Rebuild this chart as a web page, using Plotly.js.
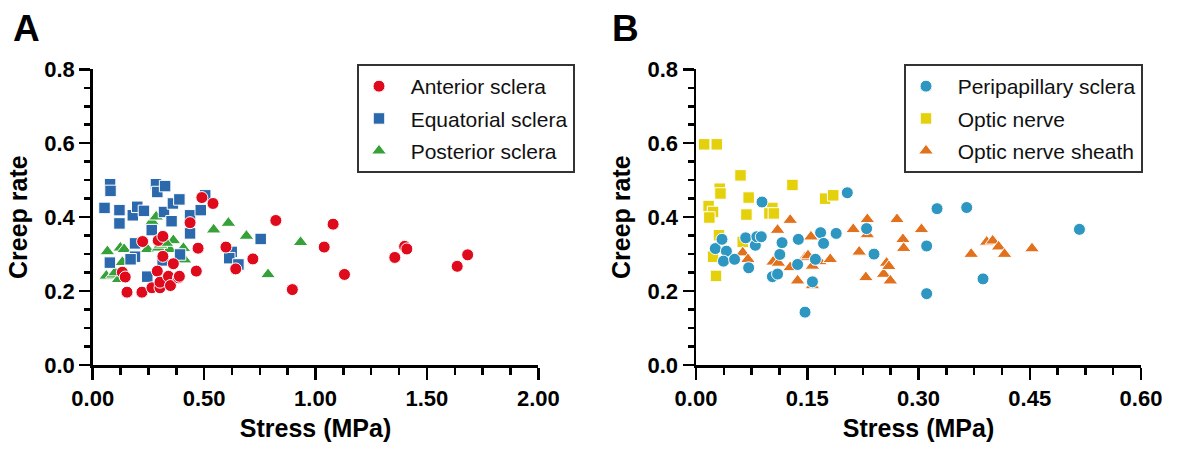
<!DOCTYPE html>
<html>
<head>
<meta charset="utf-8">
<script src="https://cdn.plot.ly/plotly-3.0.1.min.js"></script>
<style>html,body{margin:0;padding:0;background:#fff;}#chart{width:1178px;height:449px;}</style>
</head>
<body>
<div id="chart"></div>
<script>
// Panel A
const anteriorStress = [0.133,0.146,0.154,0.221,0.224,0.266,0.29,0.294,0.302,0.302,0.315,0.315,0.34,0.349,0.362,0.385,0.389,0.437,0.465,0.473,0.49,0.54,0.598,0.642,0.719,0.822,0.896,1.039,1.079,1.13,1.356,1.4,1.41,1.636,1.683];
const anteriorCreep  = [0.251,0.238,0.197,0.197,0.334,0.209,0.254,0.337,0.209,0.224,0.348,0.294,0.24,0.215,0.274,0.236,0.24,0.385,0.254,0.316,0.453,0.437,0.319,0.26,0.287,0.391,0.204,0.319,0.381,0.245,0.291,0.321,0.314,0.267,0.298];
const equatorialStress = [0.053,0.078,0.08,0.12,0.12,0.18,0.2,0.23,0.284,0.29,0.325,0.32,0.36,0.389,0.354,0.437,0.485,0.505,0.265,0.437,0.19,0.19,0.17,0.077,0.392,0.314,0.245,0.754,0.624,0.613,0.654];
const equatorialCreep  = [0.425,0.489,0.471,0.419,0.383,0.405,0.428,0.417,0.489,0.468,0.484,0.414,0.437,0.448,0.389,0.405,0.419,0.459,0.365,0.356,0.329,0.293,0.286,0.277,0.299,0.283,0.239,0.341,0.306,0.289,0.272];
const posteriorStress = [0.066,0.061,0.091,0.116,0.124,0.141,0.133,0.246,0.266,0.285,0.295,0.345,0.362,0.407,0.412,0.543,0.609,0.69,0.787,0.933,0.304,0.1,0.33];
const posteriorCreep  = [0.307,0.241,0.244,0.232,0.317,0.313,0.278,0.313,0.388,0.401,0.317,0.313,0.337,0.316,0.285,0.366,0.384,0.349,0.245,0.332,0.325,0.25,0.33];

// Panel B
const peripapillaryStress = [0.026,0.035,0.041,0.037,0.052,0.067,0.071,0.08,0.082,0.088,0.089,0.103,0.11,0.113,0.116,0.138,0.137,0.147,0.157,0.161,0.168,0.172,0.189,0.204,0.23,0.24,0.311,0.311,0.325,0.365,0.387,0.517];
const peripapillaryCreep  = [0.315,0.34,0.308,0.281,0.286,0.344,0.263,0.324,0.347,0.347,0.441,0.239,0.246,0.299,0.331,0.34,0.272,0.143,0.225,0.286,0.358,0.329,0.356,0.466,0.369,0.3,0.322,0.193,0.423,0.426,0.233,0.367];
const opticNerveStress = [0.011,0.028,0.06,0.13,0.032,0.033,0.071,0.017,0.023,0.018,0.068,0.103,0.099,0.105,0.174,0.185,0.031,0.063,0.023,0.027];
const opticNerveCreep  = [0.597,0.597,0.513,0.487,0.477,0.464,0.453,0.43,0.414,0.399,0.407,0.425,0.41,0.41,0.45,0.459,0.351,0.333,0.293,0.241];
const sheathStress = [0.063,0.07,0.11,0.104,0.111,0.127,0.127,0.137,0.147,0.151,0.155,0.157,0.157,0.167,0.181,0.212,0.22,0.231,0.231,0.229,0.253,0.257,0.26,0.262,0.271,0.279,0.28,0.304,0.371,0.392,0.4,0.408,0.416,0.453];
const sheathCreep  = [0.304,0.286,0.365,0.279,0.276,0.392,0.264,0.228,0.291,0.296,0.347,0.268,0.215,0.28,0.286,0.367,0.306,0.394,0.353,0.237,0.246,0.276,0.267,0.228,0.394,0.34,0.316,0.367,0.3,0.333,0.336,0.32,0.3,0.315];

const panelLabels = ['A','B'];
const xTitle = 'Stress (MPa)';
const yTitle = 'Creep rate';

const FONT = 'Liberation Sans, Arial, sans-serif';
const PAD = '\u00a0\u00a0';

function pts(name, x, y, color, symbol, xa, ya, leg, rank, size) {
  return {
    type: 'scatter', mode: 'markers', name: PAD + name, x: x, y: y,
    xaxis: xa, yaxis: ya, legend: leg, legendrank: rank, legendgroup: name,
    cliponaxis: false,
    marker: {color: color, symbol: symbol, size: size, line: {color: '#ffffff', width: 1}},
    hoverinfo: 'x+y+name'
  };
}

const data = [
  pts('Posterior sclera', posteriorStress, posteriorCreep, '#36A138', 'triangle-up', 'x', 'y', 'legend', 3, 13),
  pts('Equatorial sclera', equatorialStress, equatorialCreep, '#2C68AC', 'square', 'x', 'y', 'legend', 2, 11.5),
  pts('Anterior sclera', anteriorStress, anteriorCreep, '#DF0A1C', 'circle', 'x', 'y', 'legend', 1, 12),
  pts('Optic nerve', opticNerveStress, opticNerveCreep, '#E5D00C', 'square', 'x2', 'y2', 'legend2', 2, 11.5),
  pts('Optic nerve sheath', sheathStress, sheathCreep, '#E2711E', 'triangle-up', 'x2', 'y2', 'legend2', 3, 13),
  pts('Peripapillary sclera', peripapillaryStress, peripapillaryCreep, '#2E97C1', 'circle', 'x2', 'y2', 'legend2', 1, 12)
];

const W = 1178, H = 449;
const ydom = [(H - 365) / H, (H - 69.3) / H];

function xaxis(domain, range, dtick, minorDtick, anchor) {
  return {
    domain: domain, range: range, anchor: anchor,
    showgrid: false, zeroline: false, showline: true, linecolor: '#000', linewidth: 2.5,
    ticks: 'outside', ticklen: 12, tickwidth: 2.5, tickcolor: '#000',
    tick0: 0, dtick: dtick, tickformat: '.2f',
    minor: {ticks: 'outside', ticklen: 7, tickwidth: 2.5, tickcolor: '#000', dtick: minorDtick, tick0: 0, showgrid: false},
    tickfont: {family: FONT, size: 22, color: '#000', weight: 'bold'},
    title: {text: '<b>' + xTitle + '</b>', font: {family: FONT, size: 25, color: '#000'}, standoff: 10},
    fixedrange: true
  };
}
function yaxis(anchor) {
  return {
    domain: ydom, range: [0, 0.8], anchor: anchor,
    showgrid: false, zeroline: false, showline: true, linecolor: '#000', linewidth: 2.5,
    ticks: 'outside', ticklen: 11, tickwidth: 2.5, tickcolor: '#000',
    tick0: 0, dtick: 0.2, tickformat: '.1f',
    minor: {ticks: 'outside', ticklen: 6, tickwidth: 2.5, tickcolor: '#000', dtick: 0.05, tick0: 0, showgrid: false},
    tickfont: {family: FONT, size: 22, color: '#000', weight: 'bold'},
    title: {text: '<b>' + yTitle + '</b>', font: {family: FONT, size: 25, color: '#000'}, standoff: 10},
    fixedrange: true
  };
}

function legendBox(x) {
  return {
    x: x, y: (H - 64) / H, xanchor: 'left', yanchor: 'top', xref: 'paper', yref: 'paper',
    bgcolor: '#ffffff', bordercolor: '#333', borderwidth: 2,
    font: {family: FONT, size: 21, color: '#111'},
    traceorder: 'grouped', tracegroupgap: 2
  };
}

const layout = {
  width: W, height: H,
  margin: {l: 0, r: 0, t: 0, b: 0},
  paper_bgcolor: '#ffffff', plot_bgcolor: '#ffffff',
  showlegend: true,
  xaxis: xaxis([92.7 / W, 538.3 / W], [0, 2], 0.5, 0.125, 'y'),
  yaxis: yaxis('x'),
  xaxis2: xaxis([696 / W, 1141 / W], [0, 0.6], 0.15, 0.0375, 'y2'),
  yaxis2: yaxis('x2'),
  legend: legendBox(357 / W),
  legend2: legendBox(904 / W),
  annotations: [
    {text: '<b>' + panelLabels[0] + '</b>', xref: 'paper', yref: 'paper', x: 26 / W, y: (H - 28) / H, xanchor: 'center', yanchor: 'middle', showarrow: false, font: {family: FONT, size: 37, color: '#000'}},
    {text: '<b>' + panelLabels[1] + '</b>', xref: 'paper', yref: 'paper', x: 625 / W, y: (H - 28) / H, xanchor: 'center', yanchor: 'middle', showarrow: false, font: {family: FONT, size: 37, color: '#000'}}
  ]
};

Plotly.newPlot('chart', data, layout, {displayModeBar: false, staticPlot: true});
</script>
</body>
</html>
